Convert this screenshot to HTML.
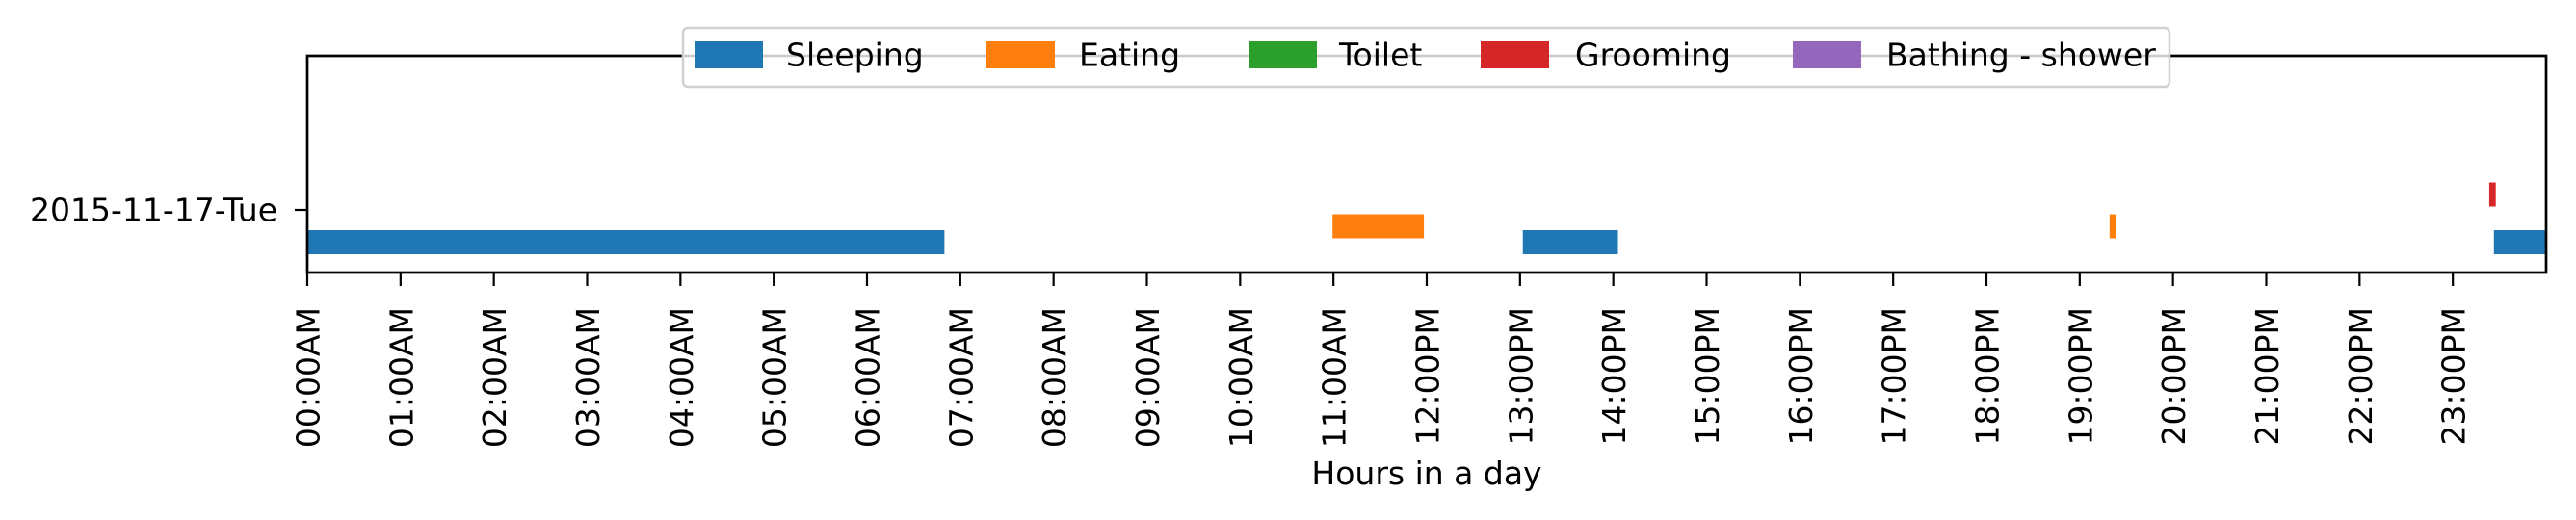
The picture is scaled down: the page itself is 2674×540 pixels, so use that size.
<!DOCTYPE html>
<html><head><meta charset="utf-8"><style>
html,body{margin:0;padding:0;background:#fff}
svg{display:block;font-family:"DejaVu Sans","Liberation Sans",sans-serif}
</style></head><body>
<svg id="chart" width="2674" height="540" viewBox="0 0 2674 540">
<g id="bars"></g>
<g id="axes"></g>
<g id="legend"></g>
</svg>
<script>
const categories = ["Sleeping","Eating","Toilet","Grooming","Bathing - shower"];
const colors = ["#1f77b4","#ff7f0e","#2ca02c","#d62728","#9467bd"];
const activityNames = ["Sleeping","Eating","Sleeping","Eating","Grooming","Sleeping"];
const startHours = [0.0, 10.99, 13.03, 19.32, 23.39, 23.44];
const endHours = [6.83, 11.97, 14.05, 19.39, 23.46, 24.0];
const tickLabels = ["00:00AM","01:00AM","02:00AM","03:00AM","04:00AM","05:00AM","06:00AM","07:00AM","08:00AM","09:00AM","10:00AM","11:00AM","12:00PM","13:00PM","14:00PM","15:00PM","16:00PM","17:00PM","18:00PM","19:00PM","20:00PM","21:00PM","22:00PM","23:00PM"];
const dayLabel = "2015-11-17-Tue";

const NS="http://www.w3.org/2000/svg";
const L=319,R=2643,T=58,B=283,ytick=218,FS=33;
function xs(h){return L+(R-L)*h/24;}
function catY(i){return ytick+33.5-16.5*i;}
function mk(tag,attrs,parent){const e=document.createElementNS(NS,tag);for(const k in attrs)e.setAttribute(k,attrs[k]);parent.appendChild(e);return e;}
const bars=document.getElementById('bars'),axes=document.getElementById('axes'),leg=document.getElementById('legend');

for(let i=0;i<activityNames.length;i++){
  const c=categories.indexOf(activityNames[i]);
  const r=mk('rect',{x:xs(startHours[i]),y:catY(c)-12.5,width:xs(endHours[i])-xs(startHours[i]),height:25,fill:colors[c]},bars);
  
  
}
const frame=mk('rect',{x:L,y:T,width:R-L,height:B-T,fill:'none',stroke:'#000','stroke-width':2.7},axes);


for(let i=0;i<tickLabels.length;i++){
  const x=xs(i);
  const tk=mk('line',{x1:x,x2:x,y1:B,y2:B+14,stroke:'#000','stroke-width':2.2},axes);
  
  
  const t=mk('text',{transform:`translate(${x+1},319) rotate(-90)`,'text-anchor':'end','dominant-baseline':'central','font-size':FS,fill:'#000'},axes);
  t.textContent=tickLabels[i];
  
  
}
const yt=mk('line',{x1:L-13,x2:L,y1:ytick,y2:ytick,stroke:'#000','stroke-width':2.2},axes);


const yl=mk('text',{x:288,y:ytick,'text-anchor':'end','dominant-baseline':'central','font-size':FS,fill:'#000'},axes);
yl.textContent=dayLabel;


const xl=mk('text',{x:1481,y:503,'text-anchor':'middle','font-size':FS,fill:'#000'},axes);
xl.textContent="Hours in a day";



const box=mk('rect',{x:709,y:29,width:1543,height:61,rx:5,fill:'#fff','fill-opacity':0.8,stroke:'#d0d0d0','stroke-width':2.5},leg);


const patchX=[721,1024,1296,1537,1861];
const textX=[816,1120,1390,1635,1958];
for(let i=0;i<categories.length;i++){
  const p=mk('rect',{x:patchX[i],y:43,width:71,height:28,fill:colors[i]},leg);
  
  
  const t=mk('text',{x:textX[i],y:57,'dominant-baseline':'central','font-size':FS,fill:'#000'},leg);
  t.textContent=categories[i];
  
  
}
</script>
</body></html>
